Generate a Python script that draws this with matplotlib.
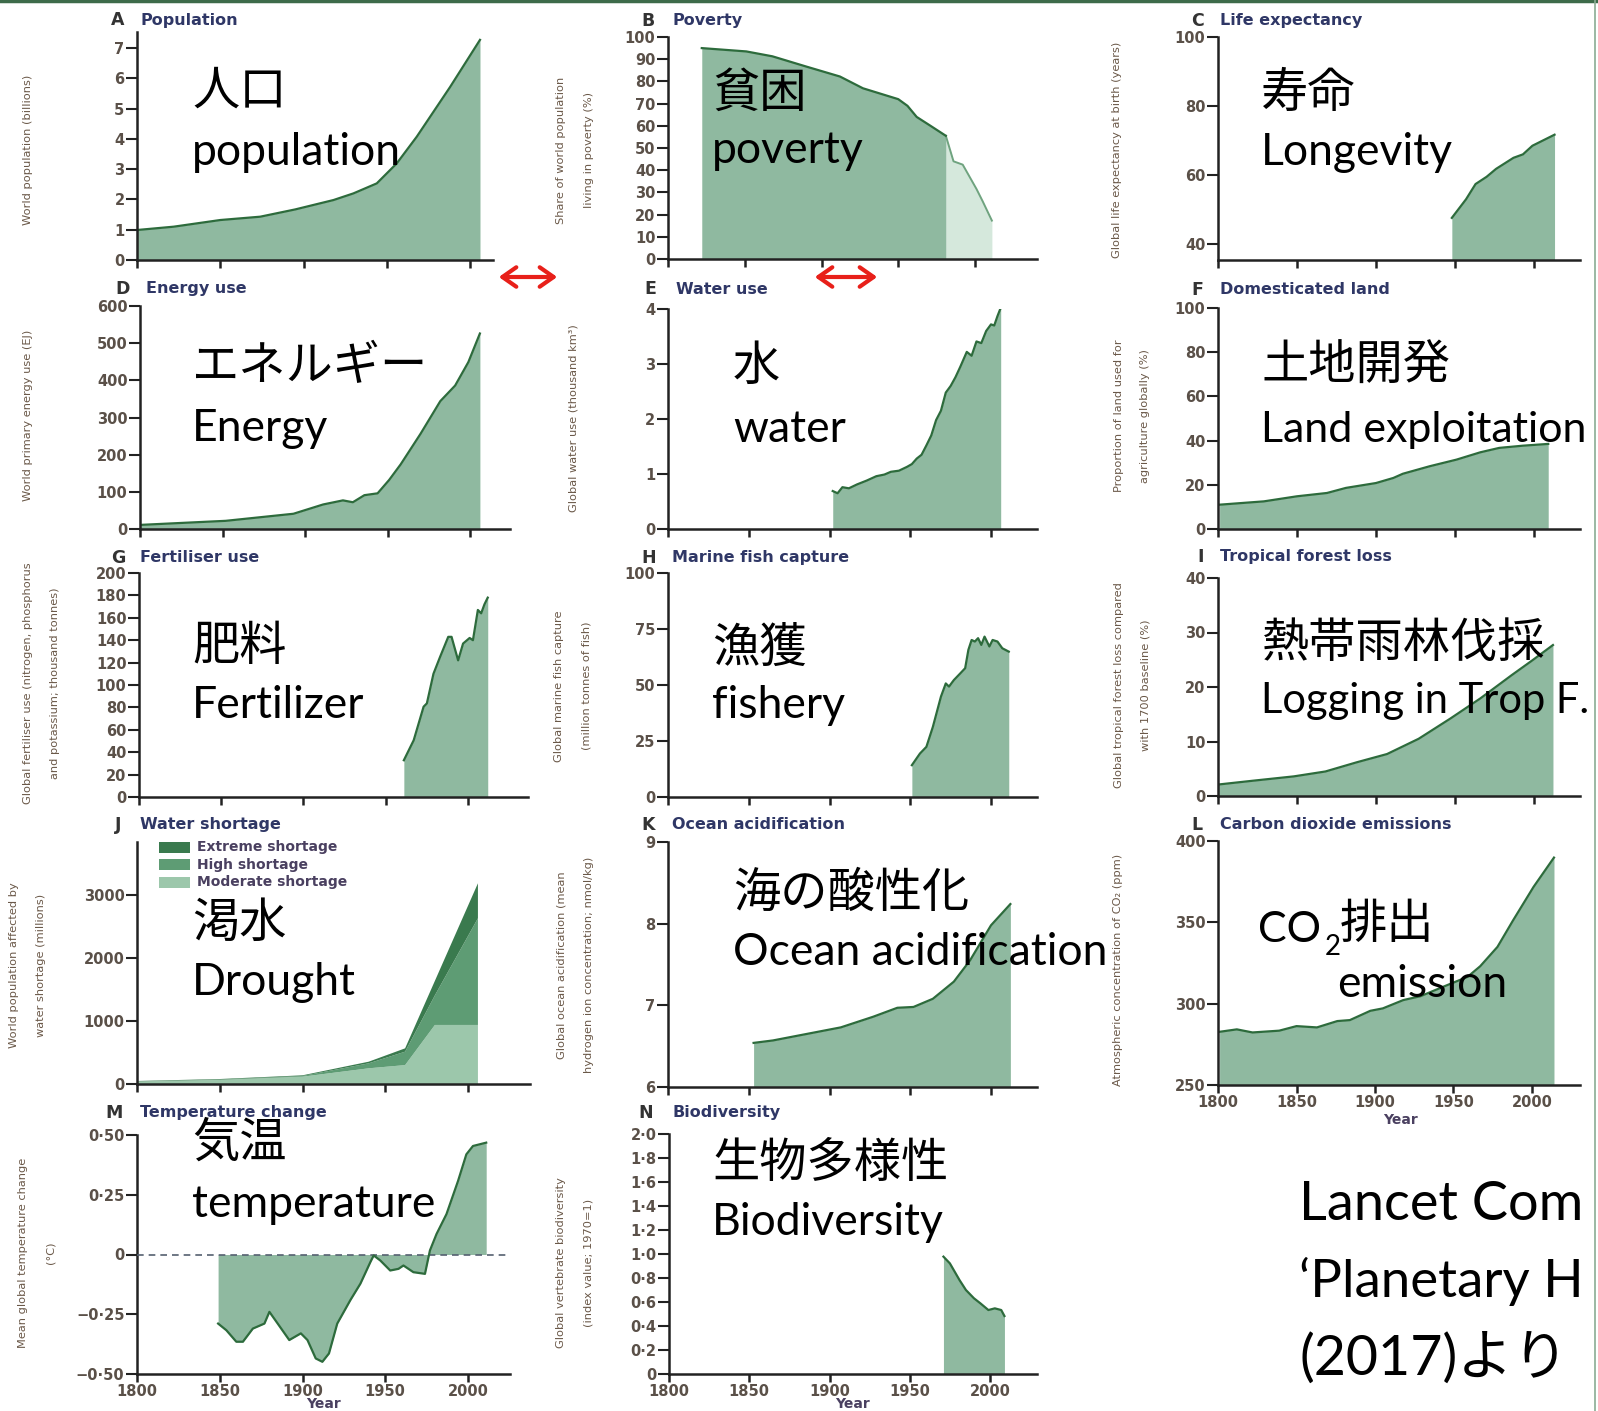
import matplotlib.pyplot as plt
from matplotlib.patches import Rectangle, FancyArrowPatch
from matplotlib.lines import Line2D

W, H = 1598, 1411

# ---- data ----
pop_year = [1800, 1822, 1850, 1874, 1895, 1918, 1930, 1944, 1956, 1968, 1978, 1988, 2006]
pop_val = [0.99, 1.1, 1.32, 1.43, 1.67, 1.98, 2.2, 2.53, 3.19, 4.07, 4.89, 5.71, 7.27]

pov_year = [1822, 1851, 1868, 1890, 1912, 1927, 1950, 1956, 1962, 1971, 1981]
pov_val = [95, 93.5, 91.3, 86.7, 82.2, 76.9, 72, 69, 64, 60, 55.5]
pov_proj_year = [1981, 1986, 1992, 2001, 2005, 2011]
pov_proj_val = [55.5, 44, 42.5, 31.5, 26, 17.3]

life_year = [1948, 1957, 1963, 1970, 1976, 1987, 1993, 1999, 2013]
life_val = [47.6, 53, 57.4, 59.5, 61.8, 65, 66, 68.5, 71.7]

energy_year = [1800, 1852, 1893, 1911, 1923, 1929, 1936, 1944, 1951, 1958, 1970, 1982, 1991, 1999, 2006]
energy_val = [11, 22, 41, 66, 77, 72, 91, 96, 132, 174, 256, 344, 386, 449, 526]

water_year = [1902, 1905, 1908, 1912, 1917, 1923, 1929, 1934, 1938, 1943, 1948, 1951, 1954, 1957,
              1960, 1963, 1966, 1969, 1972, 1975, 1978, 1981, 1985, 1988, 1991, 1994, 1997,
              2000, 2002, 2004, 2006]
water_val = [0.69, 0.65, 0.76, 0.74, 0.81, 0.88, 0.96, 0.99, 1.04, 1.06, 1.13, 1.18, 1.28, 1.35,
             1.52, 1.7, 1.98, 2.15, 2.48, 2.6, 2.76, 2.95, 3.22, 3.15, 3.41, 3.38, 3.6,
             3.72, 3.7, 3.87, 4.02]

land_year = [1801, 1829, 1850, 1869, 1881, 1900, 1911, 1917, 1934, 1951, 1966, 1978, 1993, 2009]
land_val = [11, 12.5, 14.8, 16.3, 18.6, 20.8, 23.1, 25, 28.4, 31.4, 34.7, 36.7, 37.7, 38.5]

fert_year = [1961, 1967, 1973, 1975, 1979, 1983, 1988, 1990, 1994, 1997, 2001, 2003, 2006, 2008, 2010, 2012]
fert_val = [32.8, 50.7, 80.6, 83.6, 110, 125, 143, 143, 122, 137, 142, 140, 167, 164, 172, 178]

fish_year = [1951, 1956, 1960, 1964, 1969, 1972, 1974, 1977, 1981, 1984, 1986, 1988, 1990, 1992,
             1994, 1996, 1999, 2001, 2004, 2007, 2011]
fish_val = [14.2, 19.4, 22.4, 31.3, 44.8, 50.7, 49.3, 52.2, 55.2, 57.5, 65.7, 70.1, 69.4, 70.9,
            67.9, 71.6, 67.2, 70.1, 69.4, 66.4, 64.9]

forest_year = [1800, 1822, 1848, 1868, 1888, 1907, 1927, 1947, 1966, 1986, 1999, 2012]
forest_val = [2.1, 2.8, 3.6, 4.5, 6.2, 7.7, 10.5, 14.2, 17.9, 22.2, 24.9, 27.7]

short_year = [1800, 1850, 1900, 1940, 1962, 1980, 2006]
short_moderate = [37, 63, 116, 249, 300, 937, 937]
short_high = [5, 8, 11, 79, 213, 470, 1693]
short_extreme = [6, 8, 11, 26, 53, 230, 555]
short_names = ['Extreme shortage', 'High shortage', 'Moderate shortage']

acid_year = [1853, 1865, 1886, 1907, 1927, 1942, 1952, 1964, 1977, 1987, 2000, 2012]
acid_val = [6.54, 6.57, 6.65, 6.73, 6.86, 6.97, 6.98, 7.08, 7.29, 7.55, 7.98, 8.24]

co2_year = [1801, 1812, 1822, 1839, 1850, 1863, 1876, 1884, 1897, 1905, 1918, 1929, 1946,
            1959, 1967, 1978, 1988, 2001, 2014]
co2_val = [282.7, 284.2, 282.3, 283.4, 286.2, 285.4, 289.3, 289.9, 295.6, 297.1, 302.2, 304.6,
           311.4, 316.5, 323, 334.9, 351.3, 371.8, 389.8]

temp_year = [1849, 1854, 1860, 1864, 1870, 1877, 1880, 1885, 1892, 1899, 1903, 1908, 1912,
             1916, 1921, 1929, 1935, 1941, 1943, 1947, 1953, 1958, 1961, 1967, 1974, 1977,
             1981, 1987, 1994, 1999, 2003, 2011]
temp_val = [-0.289, -0.317, -0.365, -0.365, -0.31, -0.289, -0.24, -0.289, -0.358, -0.33,
            -0.358, -0.435, -0.449, -0.414, -0.289, -0.19, -0.122, -0.032, -0.004, -0.025,
            -0.067, -0.06, -0.046, -0.074, -0.081, 0.017, 0.086, 0.169, 0.308, 0.419, 0.454, 0.468]

bio_year = [1971, 1975, 1981, 1985, 1990, 1994, 1999, 2003, 2007, 2009]
bio_val = [0.978, 0.922, 0.783, 0.7, 0.631, 0.589, 0.533, 0.547, 0.533, 0.483]

# ---- styles ----
FILL = "#8fb9a0"
LINE = "#2d6b3c"
TICK_C = "#5a5048"
YLAB_C = "#6a5848"
TITLE_C = "#2f3766"
BIG = ['Lato', 'Noto Sans CJK JP']
LAT = 32     # size of the big latin words
CJK = 34     # size of the big japanese words

fig = plt.figure(figsize=(W / 100, H / 100), dpi=100)


def fx(x):
    return x / W


def fy(y):
    return 1 - y / H


def make_axes(x0, x2000, xend, yt, yb, ylim, yticks, yticklabels=None, xlabels=False):
    """Axes placed by pixel position of 1800, 2000, axis end, top and bottom."""
    ax = fig.add_axes([fx(x0), fy(yb), (xend - x0) / W, (yb - yt) / H])
    ax.set_xlim(1800, 1800 + (xend - x0) / (x2000 - x0) * 200)
    ax.set_ylim(*ylim)
    for s in ('top', 'right'):
        ax.spines[s].set_visible(False)
    for s in ('left', 'bottom'):
        ax.spines[s].set_color('#222222')
        ax.spines[s].set_linewidth(1.8)
    ax.set_xticks([1800, 1850, 1900, 1950, 2000])
    ax.set_yticks(yticks)
    if yticklabels is not None:
        ax.set_yticklabels(yticklabels)
    if not xlabels:
        ax.set_xticklabels([])
    ax.tick_params(axis='y', direction='out', length=8, width=1.5, pad=1,
                   labelsize=10.5, labelcolor=TICK_C, color='#222222')
    ax.tick_params(axis='x', direction='out', length=6, width=1.8, pad=1,
                   labelsize=10.5, labelcolor=TICK_C, color='#222222')
    for lab in ax.get_xticklabels() + ax.get_yticklabels():
        lab.set_fontweight('bold')
    ax.patch.set_alpha(0)
    return ax


def area(ax, xs, ys, base):
    ax.fill_between(xs, ys, base, color=FILL, lw=0)
    ax.plot(xs, ys, color=LINE, lw=1.6)


def title(xl, xn, y, letter, name):
    fig.text(fx(xl), fy(y), letter, fontsize=12.5, fontweight='bold', color='#333333', va='center')
    fig.text(fx(xn), fy(y), name, fontsize=11.5, fontweight='bold', color=TITLE_C, va='center')


def ylabel(x, y, lines, size=8.2):
    n = len(lines)
    for i, s in enumerate(lines):
        xx = x + (i - (n - 1) / 2) * 27
        fig.text(fx(xx), fy(y), s, rotation=90, ha='center', va='center',
                 fontsize=size, color=YLAB_C)


def big(x, y, s, size=LAT, **kw):
    fig.text(fx(x), fy(y), s, family=BIG, fontsize=size, color='black', va='baseline', **kw)


def year_label(x, y):
    fig.text(fx(x), fy(y), 'Year', fontsize=10, fontweight='bold', color='#4a4060',
             ha='center', va='center')


# ---- A Population ----
ax = make_axes(137, 470, 493, 32, 260, (0, 7.53), range(0, 8))
area(ax, pop_year, pop_val, 0)
title(111, 140, 20, 'A', 'Population')
ylabel(28, 150, ['World population (billions)'])
big(192, 105, '人口', CJK)
big(192, 165, 'population')

# ---- B Poverty ----
ax = make_axes(668, 975, 1037, 37, 259, (0, 100), range(0, 101, 10))
ax.fill_between(pov_proj_year, pov_proj_val, 0, color='#d5e8dc', lw=0)
ax.plot(pov_proj_year, pov_proj_val, color='#6fa37f', lw=1.4)
area(ax, pov_year, pov_val, 0)
title(641, 672, 21, 'B', 'Poverty')
ylabel(575, 150, ['Share of world population', 'living in poverty (%)'])
big(712, 107, '貧困', CJK)
big(712, 163, 'poverty')

# ---- C Life expectancy ----
ax = make_axes(1218, 1534, 1580, 37, 260, (35.4, 100), [40, 60, 80, 100])
area(ax, life_year, life_val, 35.4)
title(1191, 1220, 21, 'C', 'Life expectancy')
ylabel(1117, 150, ['Global life expectancy at birth (years)'])
big(1261, 107, '寿命', CJK)
big(1261, 165, 'Longevity')

# ---- D Energy use ----
ax = make_axes(140, 470, 510, 306, 529, (0, 600), range(0, 601, 100))
area(ax, energy_year, energy_val, 0)
title(115, 146, 289, 'D', 'Energy use')
ylabel(28, 415, ['World primary energy use (EJ)'])
big(192, 380, 'エネルギー', CJK)
big(192, 441, 'Energy')

# ---- E Water use ----
ax = make_axes(668, 991, 1037, 309, 529, (0, 4), range(0, 5))
area(ax, water_year, water_val, 0)
title(644, 676, 289, 'E', 'Water use')
ylabel(573, 418, ['Global water use (thousand km³)'])
big(733, 380, '水', CJK)
big(733, 442, 'water')

# ---- F Domesticated land ----
ax = make_axes(1218, 1534, 1580, 308, 529, (0, 100), range(0, 101, 20))
area(ax, land_year, land_val, 0)
title(1191, 1220, 290, 'F', 'Domesticated land')
ylabel(1132, 416, ['Proportion of land used for', 'agriculture globally (%)'])
big(1261, 380, '土地開発', CJK)
big(1261, 442, 'Land exploitation', 31)

# ---- G Fertiliser use ----
ax = make_axes(139, 468, 528, 573, 797, (0, 200), range(0, 201, 20))
area(ax, fert_year, fert_val, 0)
title(111, 140, 558, 'G', 'Fertiliser use')
ylabel(42, 683, ['Global fertiliser use (nitrogen, phosphorus',
                 'and potassium; thousand tonnes)'])
big(192, 660, '肥料', CJK)
big(192, 718, 'Fertilizer')

# ---- H Marine fish capture ----
ax = make_axes(668, 991, 1037, 573, 797, (0, 100), [0, 25, 50, 75, 100])
area(ax, fish_year, fish_val, 0)
title(641, 672, 558, 'H', 'Marine fish capture')
ylabel(573, 686, ['Global marine fish capture', '(million tonnes of fish)'])
big(712, 662, '漁獲', CJK)
big(712, 718, 'fishery')

# ---- I Tropical forest loss ----
ax = make_axes(1218, 1534, 1580, 578, 796, (0, 40), range(0, 41, 10))
area(ax, forest_year, forest_val, 0)
title(1197, 1220, 557, 'I', 'Tropical forest loss')
ylabel(1132, 685, ['Global tropical forest loss compared', 'with 1700 baseline (%)'])
big(1261, 657, '熱帯雨林伐採', CJK)
big(1261, 713, 'Logging in Trop F.', 30)

# ---- J Water shortage ----
ax = make_axes(137, 468, 530, 842, 1084, (0, 3840), [0, 1000, 2000, 3000])
short_colors = ['#9cc7ab', '#5e9c74', '#3a7a4e']
ax.stackplot(short_year, short_moderate, short_high, short_extreme,
             colors=short_colors, lw=0)
title(115, 140, 825, 'J', 'Water shortage')
ylabel(28, 965, ['World population affected by', 'water shortage (millions)'])
for i, (name, col) in enumerate(zip(short_names, short_colors[::-1])):
    yy = 847 + i * 17.5
    fig.add_artist(Rectangle((fx(159), fy(yy + 5.5)), 31 / W, 11 / H,
                             transform=fig.transFigure, color=col, lw=0))
    fig.text(fx(197), fy(yy), name, fontsize=10, fontweight='bold',
             color='#4a4060', va='center')
big(192, 937, '渇水', CJK)
big(192, 995, 'Drought')

# ---- K Ocean acidification ----
ax = make_axes(668, 991, 1037, 842, 1087, (6, 9), [6, 7, 8, 9])
area(ax, acid_year, acid_val, 6)
title(641, 672, 825, 'K', 'Ocean acidification')
ylabel(575, 965, ['Global ocean acidification (mean',
                  'hydrogen ion concentration; nmol/kg)'])
big(733, 907, '海の酸性化', CJK)
big(733, 965, 'Ocean acidification')

# ---- L Carbon dioxide emissions ----
ax = make_axes(1218, 1532, 1580, 841, 1085, (250, 400), [250, 300, 350, 400], xlabels=True)
area(ax, co2_year, co2_val, 250)
title(1191, 1220, 825, 'L', 'Carbon dioxide emissions')
ylabel(1118, 970, ['Atmospheric concentration of CO₂ (ppm)'])
year_label(1400, 1120)
big(1258, 942, 'CO', 31)
big(1325, 955, '2', 20)
big(1340, 938, '排出', CJK)
big(1337, 997, 'emission')

# ---- M Temperature change ----
ax = make_axes(137, 468, 510, 1135, 1374, (-0.5, 0.5), [-0.5, -0.25, 0, 0.25, 0.5],
               ['−0·50', '−0·25', '0', '0·25', '0·50'], xlabels=True)
ax.fill_between(temp_year, temp_val, 0, color=FILL, lw=0)
ax.axhline(0, color='#556070', lw=1.2, ls=(0, (4, 3)), zorder=3)
ax.plot(temp_year, temp_val, color=LINE, lw=1.6, zorder=4)
title(105, 140, 1113, 'M', 'Temperature change')
ylabel(37, 1253, ['Mean global temperature change', '(°C)'])
year_label(323, 1404)
big(192, 1157, '気温', CJK)
big(192, 1217, 'temperature')

# ---- N Biodiversity ----
ax = make_axes(669, 990, 1037, 1134, 1374, (0, 2), [i / 5 for i in range(11)],
               ['0'] + ['{:.1f}'.format(i / 5).replace('.', '·') for i in range(1, 11)],
               xlabels=True)
area(ax, bio_year, bio_val, 0)
title(638, 672, 1113, 'N', 'Biodiversity')
ylabel(575, 1263, ['Global vertebrate biodiversity', '(index value; 1970=1)'])
year_label(852, 1404)
big(712, 1177, '生物多様性', CJK)
big(712, 1235, 'Biodiversity')

# ---- source note, as far as the slide shows it ----
big(1299, 1220, 'Lancet Com', 39)
big(1299, 1297, '‘Planetary H', 38)
big(1299, 1375, '(2017)より', 40)

# ---- red arrows ----
for xa, xb in [(496, 560), (812, 880)]:
    fig.add_artist(FancyArrowPatch((fx(xa), fy(277)), (fx(xb), fy(277)),
                                   transform=fig.transFigure, color='#e8201a', lw=3,
                                   arrowstyle='<->,head_length=0.5,head_width=0.35',
                                   mutation_scale=20))

# ---- slide frame ----
fig.add_artist(Line2D([0, 1], [fy(1), fy(1)], transform=fig.transFigure,
                      color='#3d6b4a', lw=2.5))
fig.add_artist(Line2D([fx(1595), fx(1595)], [0, 1], transform=fig.transFigure,
                      color='#8aab94', lw=1.2))

fig.savefig('out.png', dpi=100, facecolor='white')
